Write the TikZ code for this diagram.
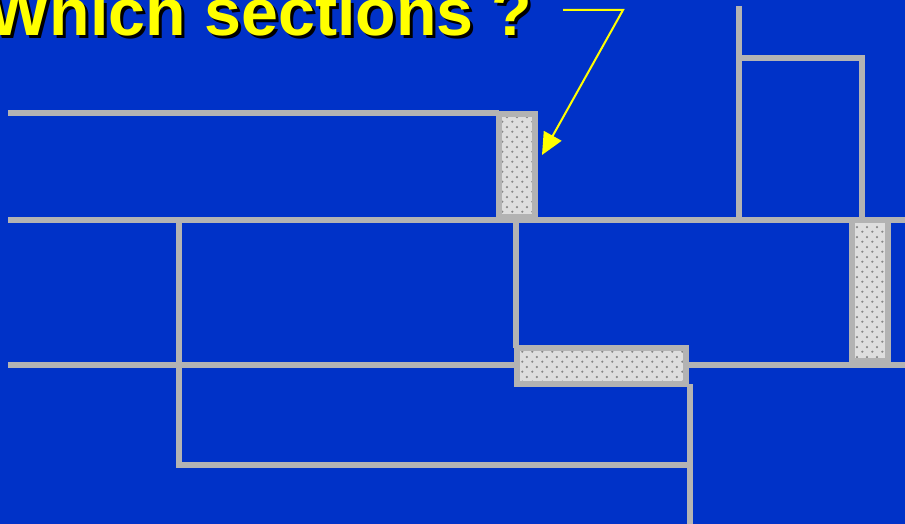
\documentclass[tikz,border=0pt]{standalone}
\usepackage{fontspec}
\setmainfont{Liberation Sans}
\usetikzlibrary{arrows.meta,patterns}
\definecolor{slideblue}{RGB}{0,50,200}
\definecolor{wiregray}{RGB}{179,179,179}
\definecolor{boxgray}{RGB}{222,222,222}
\definecolor{dotgray}{RGB}{135,135,135}
\definecolor{titleyellow}{RGB}{255,255,0}
\pgfdeclarepatternformonly{sectiondots}{\pgfqpoint{0pt}{0pt}}{\pgfqpoint{10pt}{10pt}}{\pgfqpoint{10pt}{10pt}}{%
  \pgfpathcircle{\pgfqpoint{2.5pt}{2.5pt}}{1.3pt}%
  \pgfpathcircle{\pgfqpoint{7.5pt}{7.5pt}}{1.3pt}%
  \pgfusepath{fill}}
\tikzset{
  wire/.style={wiregray, line width=6pt},
  sectionbox/.style={draw=wiregray, line width=6pt, preaction={fill=boxgray},
    pattern=sectiondots, pattern color=dotgray, inner sep=0pt, outer sep=0pt},
  callout/.style={titleyellow, line width=2pt},
  titletext/.style={anchor=base west, inner sep=0pt, font=\bfseries\fontsize{66.3}{66.3}\selectfont}
}
\begin{document}
\begin{tikzpicture}[x=1pt, y=-1pt, >={Triangle[length=22pt,width=20pt]}]
\useasboundingbox (0,0) rectangle (905,524);
\fill[slideblue] (0,0) rectangle (905,524);
% title with shadow
\node[titletext, black] (titleshadow) at (-10,39) {Which sections ?};
\node[titletext, titleyellow] (title) at (-13,36) {Which sections ?};
% horizontal rails
\draw[wire] (8,113.5) -- (499,113.5);
\draw[wire] (8,219.5) -- (905,219.5);
\draw[wire] (8,364.5) -- (905,364.5);
% left loop
\draw[wire] (179,219.5) -- (179,464.5) -- (690,464.5);
% middle drops
\draw[wire] (516,219.5) -- (516,348);
\draw[wire] (690,384) -- (690,524);
% top right frame
\draw[wire] (739,6) -- (739,219.5);
\draw[wire] (739,58) -- (862,58) -- (862,219.5);
% sections
\node[sectionbox, minimum width=36pt, minimum height=103pt] (sec1) at (517,165.5) {};
\node[sectionbox, minimum width=169pt, minimum height=36pt] (sec2) at (601.5,366) {};
\node[sectionbox, minimum width=36pt, minimum height=141pt] (sec3) at (870,290.5) {};
% callout arrow
\coordinate (lead) at (563,10);
\coordinate (bend) at (623,10);
\coordinate (tip) at (542,155);
\draw[callout,->] (lead) -- (bend) -- (tip);
\end{tikzpicture}
\end{document}
